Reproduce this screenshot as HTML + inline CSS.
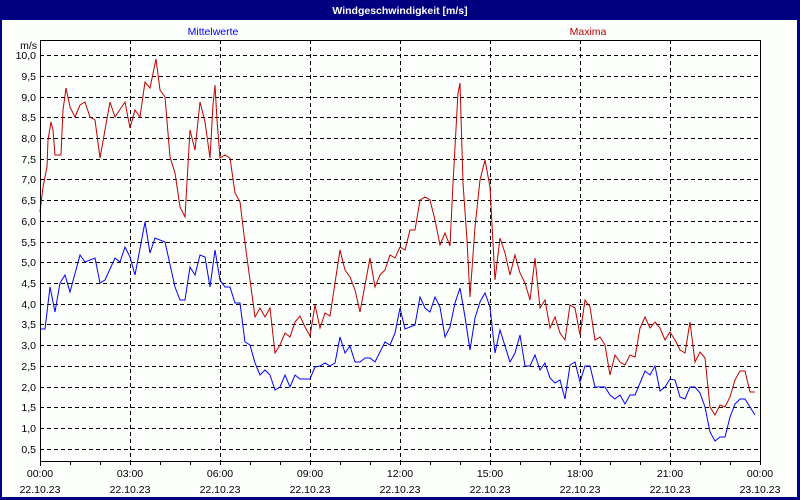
<!DOCTYPE html>
<html><head><meta charset="utf-8"><style>
html,body{margin:0;padding:0;background:#fff}
svg{display:block}
text{font-family:"Liberation Sans",sans-serif;font-size:10.5px}
</style></head><body>
<svg width="800" height="500" xmlns="http://www.w3.org/2000/svg">
<rect x="0" y="0" width="800" height="500" fill="#000080"/>
<rect x="2" y="20" width="795" height="477" fill="#fcfffc"/>
<text x="400" y="14" fill="#fff" font-weight="bold" text-anchor="middle">Windgeschwindigkeit [m/s]</text>
<text x="213" y="35" fill="#0000ff" text-anchor="middle">Mittelwerte</text>
<text x="588" y="35" fill="#c00000" text-anchor="middle">Maxima</text>
<text x="37" y="49" text-anchor="end">m/s</text>
<g stroke="#000" stroke-dasharray="4,3" stroke-width="1">
<line x1="40" x2="760" y1="55.5" y2="55.5"/><line x1="40" x2="760" y1="76.5" y2="76.5"/><line x1="40" x2="760" y1="97.5" y2="97.5"/><line x1="40" x2="760" y1="117.5" y2="117.5"/><line x1="40" x2="760" y1="138.5" y2="138.5"/><line x1="40" x2="760" y1="159.5" y2="159.5"/><line x1="40" x2="760" y1="179.5" y2="179.5"/><line x1="40" x2="760" y1="200.5" y2="200.5"/><line x1="40" x2="760" y1="221.5" y2="221.5"/><line x1="40" x2="760" y1="242.5" y2="242.5"/><line x1="40" x2="760" y1="262.5" y2="262.5"/><line x1="40" x2="760" y1="283.5" y2="283.5"/><line x1="40" x2="760" y1="304.5" y2="304.5"/><line x1="40" x2="760" y1="324.5" y2="324.5"/><line x1="40" x2="760" y1="345.5" y2="345.5"/><line x1="40" x2="760" y1="366.5" y2="366.5"/><line x1="40" x2="760" y1="387.5" y2="387.5"/><line x1="40" x2="760" y1="407.5" y2="407.5"/><line x1="40" x2="760" y1="428.5" y2="428.5"/><line x1="40" x2="760" y1="449.5" y2="449.5"/>
<line y1="40" y2="461" x1="130.5" x2="130.5"/><line y1="40" y2="461" x1="220.5" x2="220.5"/><line y1="40" y2="461" x1="310.5" x2="310.5"/><line y1="40" y2="461" x1="400.5" x2="400.5"/><line y1="40" y2="461" x1="490.5" x2="490.5"/><line y1="40" y2="461" x1="580.5" x2="580.5"/><line y1="40" y2="461" x1="670.5" x2="670.5"/>
</g>
<g text-anchor="end">
<text x="36" y="59">10,0</text><text x="36" y="80">9,5</text><text x="36" y="101">9,0</text><text x="36" y="121">8,5</text><text x="36" y="142">8,0</text><text x="36" y="163">7,5</text><text x="36" y="183">7,0</text><text x="36" y="204">6,5</text><text x="36" y="225">6,0</text><text x="36" y="246">5,5</text><text x="36" y="266">5,0</text><text x="36" y="287">4,5</text><text x="36" y="308">4,0</text><text x="36" y="328">3,5</text><text x="36" y="349">3,0</text><text x="36" y="370">2,5</text><text x="36" y="391">2,0</text><text x="36" y="411">1,5</text><text x="36" y="432">1,0</text><text x="36" y="453">0,5</text>
</g>
<polyline fill="none" stroke="#c00000" stroke-width="1" points="40,212 43,187 47,167 48,140 51,122 53,130 55,155 61,155 63,110 66,88 70,107 75,117 80,105 85,102 90,117 95,120 100,158 105,130 110,102 115,117 125,102 130,128 135,110 140,117 145,82 150,88 156,59 160,90 165,97 170,157 175,173 180,207 185,217 190,130 195,150 200,102 205,122 210,158 213,105 215,85 217,120 220,158 225,155 230,158 235,193 240,202 245,243 250,280 255,317 260,308 265,317 270,308 275,353 280,345 285,333 290,337 295,322 300,316 305,327 310,336 315,305 320,328 325,313 330,316 340,250 345,270 350,277 355,290 360,312 370,258 375,287 380,275 385,270 390,255 395,258 400,247 405,250 410,230 415,230 420,200 425,197 430,200 435,220 440,245 445,233 450,246 453,183 458,93 460,83 463,183 467,240 470,297 475,227 480,180 485,160 490,187 495,280 500,238 505,253 510,275 515,255 520,273 525,283 530,300 535,258 540,308 545,300 550,328 555,317 560,333 565,340 570,305 575,308 580,335 585,300 590,307 595,340 600,337 605,345 610,375 615,355 620,362 625,365 630,355 635,357 640,328 645,317 650,328 655,322 660,328 665,340 670,332 675,340 680,350 685,353 690,322 695,362 700,352 705,358 710,407 715,415 720,405 725,407 730,397 735,380 740,371 745,371 750,392 755,392"/>
<polyline fill="none" stroke="#0000ff" stroke-width="1" points="40,329 45,329 50,287 55,312 60,283 65,275 70,292 80,255 85,262 95,258 100,283 105,280 115,258 120,262 125,247 130,257 135,275 145,222 150,253 155,238 165,242 175,287 180,300 185,300 190,267 195,275 200,255 205,257 210,287 215,250 220,280 225,287 230,287 235,303 240,303 245,342 250,345 255,363 260,375 265,370 270,375 275,390 280,387 285,375 290,387 295,375 300,379 310,379 315,367 320,366 325,363 330,366 335,363 340,337 345,353 350,346 355,362 360,362 365,358 370,358 375,362 385,342 390,345 395,333 400,308 405,329 415,325 420,297 425,308 430,312 435,297 440,307 445,337 450,327 455,303 460,288 465,317 470,350 475,318 480,302 485,293 490,307 495,353 500,330 510,362 515,353 520,335 525,366 530,366 535,355 540,370 545,363 550,378 555,383 560,380 565,399 570,365 575,362 580,382 585,366 590,366 595,387 605,387 610,395 615,399 620,395 625,404 630,395 635,395 645,371 650,375 655,366 660,391 665,387 670,379 675,380 680,397 685,399 690,387 695,387 700,393 705,407 710,432 715,441 720,437 725,437 730,417 735,404 740,399 745,399 755,415"/>
<rect x="40.5" y="40.5" width="720" height="421" fill="none" stroke="#000" stroke-width="1"/>
<g stroke="#000">
<line x1="40.5" x2="40.5" y1="461" y2="466"/><line x1="70.5" x2="70.5" y1="461" y2="465"/><line x1="100.5" x2="100.5" y1="461" y2="465"/><line x1="130.5" x2="130.5" y1="461" y2="465"/><line x1="160.5" x2="160.5" y1="461" y2="465"/><line x1="190.5" x2="190.5" y1="461" y2="465"/><line x1="220.5" x2="220.5" y1="461" y2="465"/><line x1="250.5" x2="250.5" y1="461" y2="465"/><line x1="280.5" x2="280.5" y1="461" y2="465"/><line x1="310.5" x2="310.5" y1="461" y2="465"/><line x1="340.5" x2="340.5" y1="461" y2="465"/><line x1="370.5" x2="370.5" y1="461" y2="465"/><line x1="400.5" x2="400.5" y1="461" y2="465"/><line x1="430.5" x2="430.5" y1="461" y2="465"/><line x1="460.5" x2="460.5" y1="461" y2="465"/><line x1="490.5" x2="490.5" y1="461" y2="465"/><line x1="520.5" x2="520.5" y1="461" y2="465"/><line x1="550.5" x2="550.5" y1="461" y2="465"/><line x1="580.5" x2="580.5" y1="461" y2="465"/><line x1="610.5" x2="610.5" y1="461" y2="465"/><line x1="640.5" x2="640.5" y1="461" y2="465"/><line x1="670.5" x2="670.5" y1="461" y2="465"/><line x1="700.5" x2="700.5" y1="461" y2="465"/><line x1="730.5" x2="730.5" y1="461" y2="465"/><line x1="760.5" x2="760.5" y1="461" y2="465"/>
</g>
<g text-anchor="middle">
<text x="40" y="477">00:00</text><text x="130" y="477">03:00</text><text x="220" y="477">06:00</text><text x="310" y="477">09:00</text><text x="400" y="477">12:00</text><text x="490" y="477">15:00</text><text x="580" y="477">18:00</text><text x="670" y="477">21:00</text><text x="760" y="477">00:00</text>
<text x="40" y="493">22.10.23</text><text x="130" y="493">22.10.23</text><text x="220" y="493">22.10.23</text><text x="310" y="493">22.10.23</text><text x="400" y="493">22.10.23</text><text x="490" y="493">22.10.23</text><text x="580" y="493">22.10.23</text><text x="670" y="493">22.10.23</text><text x="760" y="493">23.10.23</text>
</g>
</svg>
</body></html>
